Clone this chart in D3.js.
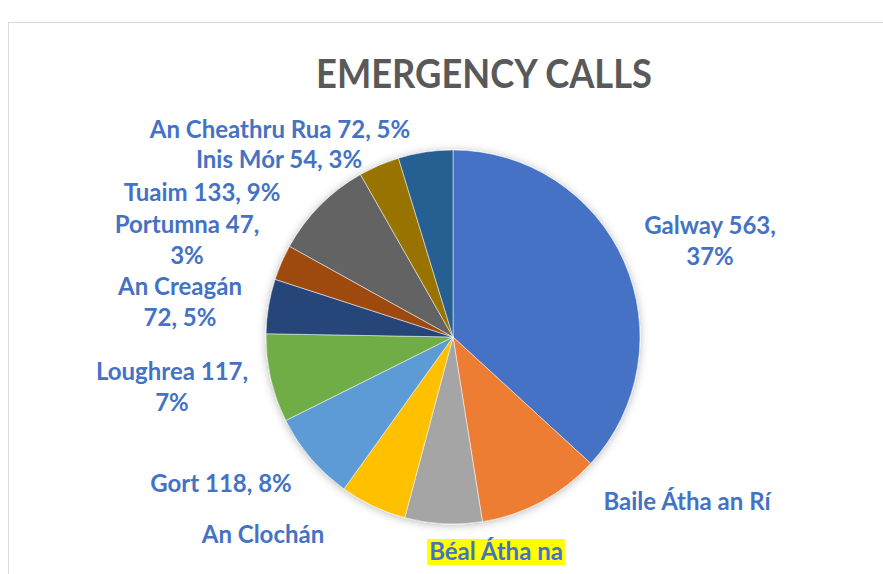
<!DOCTYPE html>
<html>
<head>
<meta charset="utf-8">
<script src="https://cdn.jsdelivr.net/npm/d3@7"></script>
<style>
  body { margin: 0; background: #fff; }
  svg { display: block; }
  .label { font-family: Lato, "Open Sans", sans-serif; font-weight: bold; fill: #4472c4; }
</style>
</head>
<body>
<script>
/*
SET UP
*/
const w = 883
const h = 574

// slices clockwise from 12 o'clock
const towns = ["Galway", "Baile Átha an Rí", "Béal Átha na", "An Clochán", "Gort", "Loughrea",
  "An Creagán", "Portumna", "Tuaim", "Inis Mór", "An Cheathru Rua"]
const calls = [563, 163, 102, 88, 118, 117, 72, 47, 133, 54, 72]
const pctText = ["37%", "", "", "", "8%", "7%", "5%", "3%", "9%", "3%", "5%"]
const colours = ["#4472c4", "#ed7d31", "#a5a5a5", "#ffc000", "#5b9bd5", "#70ad47",
  "#264478", "#9e480e", "#636363", "#997300", "#255e91"]

// label lines as Excel wrapped them
const labelLines = [
  ["Galway 563,", "37%"],
  ["Baile Átha an Rí"],
  ["Béal Átha na"],
  ["An Clochán"],
  ["Gort 118, 8%"],
  ["Loughrea 117,", "7%"],
  ["An Creagán", "72, 5%"],
  ["Portumna 47,", "3%"],
  ["Tuaim 133, 9%"],
  ["Inis Mór 54, 3%"],
  ["An Cheathru Rua 72, 5%"]
]
// label layout: centre x, first baseline y
const labelPos = [[710, 234], [687, 510], [496, 560], [263, 543], [221, 492], [172, 380],
  [180, 295], [187, 233], [202, 201], [279, 168], [280, 138]]

const cx = 453
const cy = 337
const r = 187

const svg = d3.select("body")
  .append("svg")
  .attr("width", w)
  .attr("height", h);

const defs = svg.append("defs")
const shadow = defs.append("filter")
  .attr("id", "shadow")
  .attr("x", "-20%").attr("y", "-20%")
  .attr("width", "140%").attr("height", "140%")
shadow.append("feDropShadow")
  .attr("dx", 0).attr("dy", 1)
  .attr("stdDeviation", 4)
  .attr("flood-color", "#000")
  .attr("flood-opacity", 0.28)

// chart frame
svg.append("rect")
  .attr("x", 8.5)
  .attr("y", 22.5)
  .attr("width", 900)
  .attr("height", 600)
  .attr("fill", "#fff")
  .attr("stroke", "#d9d9d9")
  .attr("stroke-width", 1)

// title
svg.append("text")
  .attr("x", 484)
  .attr("y", 88)
  .attr("text-anchor", "middle")
  .attr("font-family", "Lato, 'Open Sans', sans-serif")
  .attr("font-weight", "bold")
  .attr("font-size", 41)
  .attr("textLength", 336)
  .attr("lengthAdjust", "spacingAndGlyphs")
  .attr("fill", "#595959")
  .text("EMERGENCY CALLS")

/*
PIE
*/
const pie = d3.pie().sort(null).value((d) => d)
const arc = d3.arc().innerRadius(0).outerRadius(r)

const g = svg.append("g")
  .attr("transform", `translate(${cx},${cy})`)

g.append("g")
  .attr("filter", "url(#shadow)")
  .selectAll("path")
  .data(pie(calls))
  .join("path")
  .attr("d", arc)
  .attr("fill", (d, i) => colours[i])
  .attr("stroke", "#fff")
  .attr("stroke-width", 0.5)

/*
LABELS
*/
const labels = svg.selectAll(".label")
  .data(labelLines)
  .join("text")
  .attr("class", "label")
  .attr("font-size", 24)
  .attr("text-anchor", "middle")

labels.selectAll("tspan")
  .data((d, i) => d.map((t, j) => ({t: t, j: j, i: i})))
  .join("tspan")
  .attr("x", (d) => labelPos[d.i][0])
  .attr("y", (d) => labelPos[d.i][1] + d.j * 30.5)
  .text((d) => d.t)

// the highlighted label
const hl = labels.filter((d, i) => i === 2)
const bb = hl.node().getBBox()
svg.insert("rect", ".label")
  .attr("x", bb.x - 2)
  .attr("y", labelPos[2][1] - 21)
  .attr("width", bb.width + 4)
  .attr("height", 26)
  .attr("fill", "#ffff00")
</script>
</body>
</html>
